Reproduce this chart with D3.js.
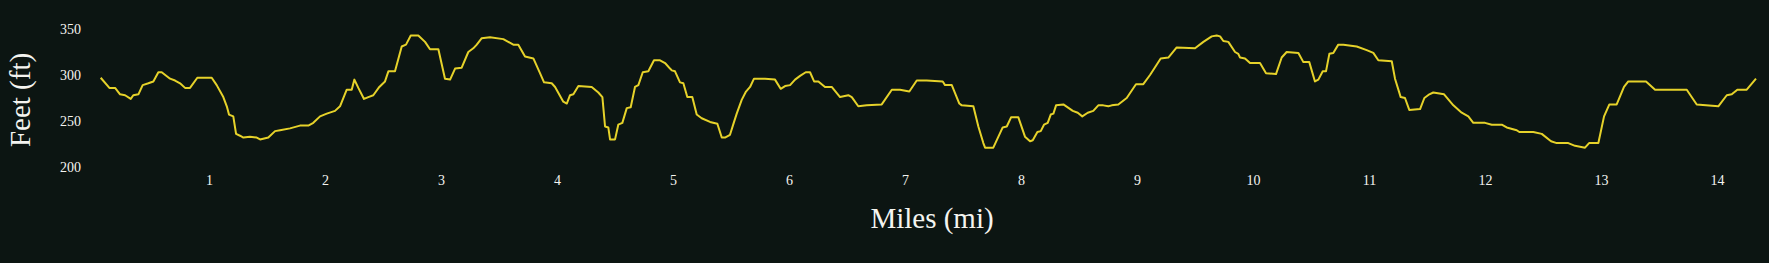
<!DOCTYPE html>
<html>
<head>
<meta charset="utf-8">
<script src="https://cdn.jsdelivr.net/npm/d3@7"></script>
<style>
  html, body { margin: 0; padding: 0; background: #0c1512; }
  svg { display: block; }
</style>
</head>
<body>
<svg id="chart" width="1769" height="263"></svg>
<script>
// distance along the route (mi) and elevation (ft)
const miles = [
  0.066, 0.141, 0.190, 0.233, 0.276, 0.325, 0.347, 0.391, 0.428, 0.477,
  0.520, 0.563, 0.592, 0.664, 0.707, 0.750, 0.793, 0.836, 0.899, 1.023,
  1.066, 1.123, 1.153, 1.172, 1.209, 1.233, 1.267, 1.296, 1.353, 1.411,
  1.440, 1.511, 1.569, 1.612, 1.698, 1.784, 1.856, 1.899, 1.957, 2.015,
  2.086, 2.129, 2.187, 2.230, 2.253, 2.287, 2.336, 2.373, 2.416, 2.468,
  2.517, 2.546, 2.603, 2.661, 2.698, 2.739, 2.804, 2.862, 2.905, 2.977,
  3.034, 3.078, 3.121, 3.178, 3.235, 3.278, 3.308, 3.351, 3.422, 3.537,
  3.623, 3.666, 3.724, 3.796, 3.853, 3.888, 3.954, 3.983, 4.054, 4.084,
  4.112, 4.141, 4.184, 4.299, 4.356, 4.391, 4.414, 4.442, 4.457, 4.500,
  4.528, 4.563, 4.601, 4.635, 4.672, 4.701, 4.739, 4.787, 4.836, 4.888,
  4.931, 4.974, 4.989, 5.017, 5.060, 5.089, 5.123, 5.166, 5.204, 5.247,
  5.319, 5.382, 5.420, 5.448, 5.491, 5.526, 5.549, 5.592, 5.629, 5.664,
  5.698, 5.793, 5.879, 5.928, 5.966, 6.009, 6.052, 6.095, 6.144, 6.181,
  6.216, 6.253, 6.310, 6.368, 6.440, 6.511, 6.541, 6.597, 6.670, 6.799,
  6.886, 6.957, 7.037, 7.101, 7.187, 7.325, 7.345, 7.403, 7.468, 7.489,
  7.589, 7.632, 7.675, 7.690, 7.761, 7.842, 7.877, 7.914, 7.977, 8.034,
  8.078, 8.101, 8.141, 8.170, 8.198, 8.230, 8.256, 8.279, 8.302, 8.365,
  8.446, 8.489, 8.528, 8.575, 8.623, 8.666, 8.709, 8.753, 8.782, 8.839,
  8.911, 8.991, 9.054, 9.112, 9.204, 9.270, 9.342, 9.500, 9.572, 9.644,
  9.687, 9.716, 9.744, 9.787, 9.845, 9.873, 9.888, 9.931, 9.974, 10.060,
  10.112, 10.198, 10.247, 10.290, 10.391, 10.434, 10.485, 10.534, 10.563, 10.601,
  10.629, 10.658, 10.692, 10.735, 10.779, 10.894, 10.980, 11.037, 11.080, 11.196,
  11.224, 11.273, 11.310, 11.347, 11.440, 11.477, 11.520, 11.554, 11.647, 11.727,
  11.799, 11.856, 11.899, 12.000, 12.058, 12.144, 12.187, 12.273, 12.296, 12.416,
  12.489, 12.569, 12.618, 12.718, 12.776, 12.862, 12.897, 12.977, 13.026, 13.072,
  13.135, 13.198, 13.235, 13.388, 13.466, 13.653, 13.739, 13.825, 14.011, 14.084,
  14.127, 14.175, 14.256, 14.336
];
const feet = [
  297, 286, 286, 279, 278, 274, 278, 279, 289, 291,
  293, 303, 303, 296, 294, 291, 286, 286, 297, 297,
  289, 276, 266, 257, 255, 236, 234, 232, 233, 232,
  230, 232, 239, 240, 242, 245, 245, 248, 255, 258,
  261, 266, 284, 284, 295, 286, 274, 276, 278, 287,
  293, 304, 304, 331, 333, 343, 343, 336, 328, 328,
  296, 295, 307, 308, 325, 329, 333, 340, 341, 339,
  333, 333, 320, 318, 302, 292, 291, 287, 271, 269,
  278, 279, 288, 287, 281, 276, 244, 243, 230, 230,
  246, 248, 264, 265, 287, 289, 303, 304, 316, 316,
  313, 307, 305, 304, 292, 291, 276, 276, 257, 253,
  249, 247, 232, 232, 235, 249, 258, 273, 282, 287,
  296, 296, 295, 285, 288, 289, 295, 299, 303, 303,
  293, 293, 287, 287, 276, 278, 276, 266, 267, 268,
  284, 284, 282, 294, 294, 293, 289, 289, 269, 267,
  266, 244, 226, 221, 221, 243, 244, 254, 254, 233,
  228, 229, 238, 239, 246, 248, 257, 258, 267, 268,
  261, 259, 255, 259, 261, 267, 267, 266, 267, 268,
  275, 290, 290, 300, 318, 319, 330, 329, 336, 342,
  343, 342, 337, 336, 325, 323, 319, 318, 313, 313,
  302, 301, 319, 325, 324, 314, 314, 293, 295, 304,
  304, 323, 324, 333, 333, 331, 327, 324, 316, 315,
  296, 276, 275, 262, 263, 275, 279, 281, 279, 267,
  259, 255, 248, 248, 246, 246, 243, 240, 238, 238,
  236, 228, 226, 226, 223, 221, 226, 226, 255, 268,
  268, 287, 293, 293, 284, 284, 284, 268, 266, 278,
  279, 284, 284, 296
];
const mileTicks = [1, 2, 3, 4, 5, 6, 7, 8, 9, 10, 11, 12, 13, 14];
const feetTicks = [200, 250, 300, 350];

const points = miles.map((m, i) => ({ mile: m, ft: feet[i] }));

const svg = d3.select("#chart");
const serif = "'Liberation Serif', 'DejaVu Serif', serif";

const x = d3.scaleLinear()
  .domain(d3.extent(miles))
  .range([100.7, 1756]);

const y = d3.scaleLinear()
  .domain([200, 350])
  .range([167, 29]);

// x axis labels only, no ticks or domain line
const xAxis = svg.append("g")
  .attr("transform", "translate(0,175)")
  .call(d3.axisBottom(x).tickValues(mileTicks).tickSize(0).tickPadding(0));
xAxis.select(".domain").remove();
xAxis.selectAll("text")
  .attr("fill", "#f4f4f0")
  .attr("font-family", serif)
  .attr("font-size", 14);

const yAxis = svg.append("g")
  .attr("transform", "translate(81,0)")
  .call(d3.axisLeft(y).tickValues(feetTicks).tickSize(0).tickPadding(0));
yAxis.select(".domain").remove();
yAxis.selectAll("text")
  .attr("fill", "#f4f4f0")
  .attr("font-family", serif)
  .attr("font-size", 14);

// elevation line
svg.append("path")
  .datum(points)
  .attr("fill", "none")
  .attr("stroke", "#e6d22a")
  .attr("stroke-width", 2)
  .attr("stroke-linejoin", "round")
  .attr("d", d3.line().x(d => x(d.mile)).y(d => y(d.ft)));

// axis titles
svg.append("text")
  .attr("x", 932)
  .attr("y", 228)
  .attr("text-anchor", "middle")
  .attr("fill", "#f4f4f0")
  .attr("font-family", serif)
  .attr("font-size", 29)
  .text("Miles (mi)");

svg.append("text")
  .attr("transform", "translate(30,100) rotate(-90)")
  .attr("text-anchor", "middle")
  .attr("fill", "#f4f4f0")
  .attr("font-family", serif)
  .attr("font-size", 29)
  .text("Feet (ft)");
</script>
</body>
</html>
